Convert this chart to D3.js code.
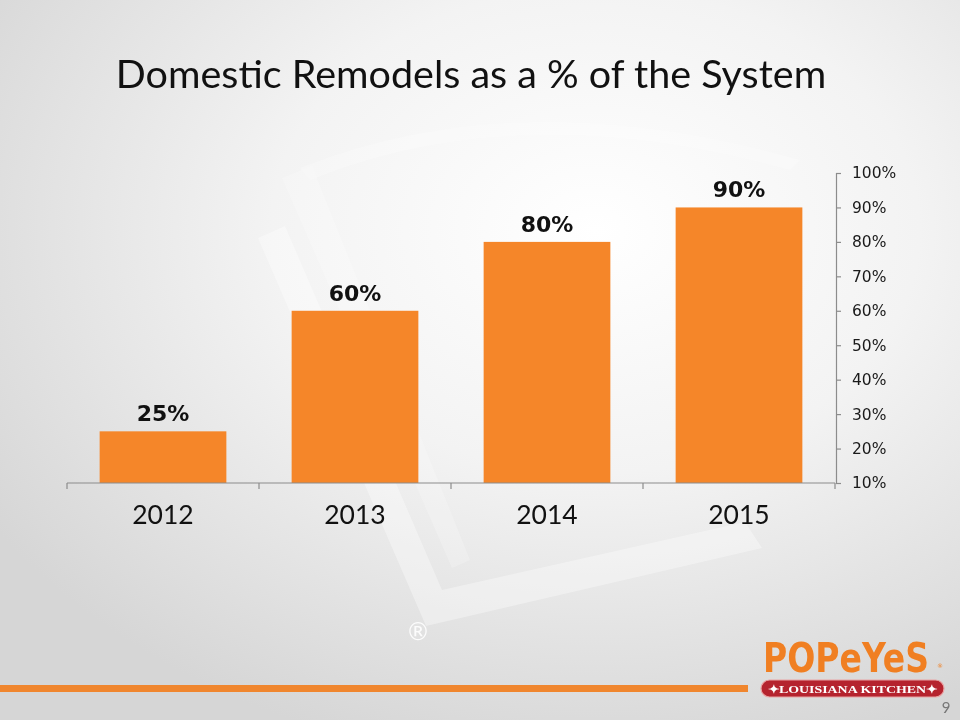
<!DOCTYPE html>
<html><head><meta charset="utf-8">
<script src="https://cdn.jsdelivr.net/npm/d3@7"></script>
<style>html,body{margin:0;padding:0;background:#fff;}svg{display:block;}</style>
</head><body>
<script>
const categories = ["2012", "2013", "2014", "2015"];
const values = [0.25, 0.60, 0.80, 0.90];
const dataLabels = ["25%", "60%", "80%", "90%"];
const yTicks = [0.1, 0.2, 0.3, 0.4, 0.5, 0.6, 0.7, 0.8, 0.9, 1.0];
const title = "Domestic Remodels as a % of the System";

const W = 960, H = 720;
const svg = d3.select("body").append("svg").attr("width", W).attr("height", H);
const defs = svg.append("defs");
const bg = defs.append("radialGradient").attr("id", "bg")
  .attr("cx", "0.62").attr("cy", "0.32").attr("r", "0.75");
bg.append("stop").attr("offset", "0").attr("stop-color", "#ffffff");
bg.append("stop").attr("offset", "0.45").attr("stop-color", "#f3f3f3");
bg.append("stop").attr("offset", "1").attr("stop-color", "#d6d6d6");
svg.append("rect").attr("width", W).attr("height", H).attr("fill", "url(#bg)");

// faint watermark shapes
const wm = svg.append("g").attr("fill", "#ffffff").attr("opacity", 0.35);
wm.append("path").attr("d", "M258,238 L285,226 L442,590 L745,522 L762,548 L426,626 Z");
wm.append("path").attr("d", "M282,178 L312,166 L470,560 L452,568 Z").attr("opacity", 0.6);
wm.append("path").attr("d", "M300,168 Q520,80 800,160 L790,170 Q520,95 310,180 Z").attr("opacity", 0.7);
svg.append("text").attr("x", 418).attr("y", 640).attr("text-anchor", "middle")
  .attr("font-family", "DejaVu Sans").attr("font-size", 24).attr("fill", "#ffffff").attr("opacity", 0.9).text("®");

// title
svg.append("text").attr("x", 471).attr("y", 88).attr("text-anchor", "middle")
  .attr("font-family", "Lato, 'Open Sans', sans-serif").attr("font-size", 39.5)
  .attr("fill", "#111").text(title);

const x = d3.scaleBand().domain(categories).range([67, 835]).paddingInner(0.34).paddingOuter(0.17);
const y = d3.scaleLinear().domain([0.1, 1.0]).range([483, 173]);

// bars
svg.append("g").selectAll("rect").data(values).join("rect")
  .attr("x", (d, i) => x(categories[i]))
  .attr("width", x.bandwidth())
  .attr("y", d => y(d))
  .attr("height", d => y(0.1) - y(d))
  .attr("fill", "#F58629");

// data labels
svg.append("g").selectAll("text").data(values).join("text")
  .attr("x", (d, i) => x(categories[i]) + x.bandwidth() / 2)
  .attr("y", d => y(d) - 10)
  .attr("text-anchor", "middle")
  .attr("font-family", "'DejaVu Sans', sans-serif").attr("font-weight", "bold")
  .attr("font-size", 22).attr("fill", "#111")
  .text((d, i) => dataLabels[i]);

// x axis
const xAxisG = svg.append("g").attr("transform", "translate(0,483)");
xAxisG.append("line").attr("x1", 67).attr("x2", 835).attr("y1", 0).attr("y2", 0)
  .attr("stroke", "#8c8c8c").attr("stroke-width", 1.2);
const tickXs = d3.range(categories.length + 1).map(i => 67 + i * (768 / categories.length));
xAxisG.selectAll("line.t").data(tickXs).join("line").attr("class", "t")
  .attr("x1", d => d).attr("x2", d => d).attr("y1", 0).attr("y2", 6)
  .attr("stroke", "#8c8c8c").attr("stroke-width", 1.2);
svg.append("g").selectAll("text").data(categories).join("text")
  .attr("x", d => x(d) + x.bandwidth() / 2)
  .attr("y", 524)
  .attr("text-anchor", "middle")
  .attr("font-family", "Lato, 'Open Sans', sans-serif").attr("font-size", 26.5)
  .attr("fill", "#111").text(d => d);

// y axis (right)
const yAxis = d3.axisRight(y).tickValues(yTicks).tickFormat(d3.format(".0%")).tickSize(5).tickPadding(11);
const yg = svg.append("g").attr("transform", "translate(836,0)").call(yAxis);
yg.select(".domain").attr("stroke", "#8c8c8c").attr("stroke-width", 1.2);
yg.selectAll(".tick line").attr("stroke", "#8c8c8c").attr("stroke-width", 1.2);
yg.selectAll(".tick text").attr("font-family", "'DejaVu Sans', sans-serif").attr("font-size", 15.5)
  .attr("fill", "#1a1a1a");

// bottom orange stripe
svg.append("rect").attr("x", 0).attr("y", 685).attr("width", 748).attr("height", 7).attr("fill", "#F0862E");

// logo
svg.append("text").attr("x", 846).attr("y", 672).attr("text-anchor", "middle")
  .attr("font-family", "'DejaVu Sans', sans-serif").attr("font-weight", "bold")
  .attr("font-size", 40).attr("fill", "#F07F22")
  .attr("textLength", 166).attr("lengthAdjust", "spacingAndGlyphs").text("POPeYeS");
svg.append("text").attr("x", 937).attr("y", 668).attr("font-family", "DejaVu Sans")
  .attr("font-size", 6).attr("fill", "#F07F22").text("®");
svg.append("rect").attr("x", 761).attr("y", 680).attr("width", 183).attr("height", 17).attr("rx", 8.5)
  .attr("fill", "#B5232E").attr("stroke", "#e9a3a3").attr("stroke-width", 1.2);
svg.append("text").attr("x", 852.5).attr("y", 692.5).attr("text-anchor", "middle")
  .attr("font-family", "'Liberation Serif', serif").attr("font-weight", "bold")
  .attr("font-size", 11).attr("fill", "#ffffff")
  .attr("textLength", 170).attr("lengthAdjust", "spacingAndGlyphs")
  .text("✦LOUISIANA KITCHEN✦");
svg.append("text").attr("x", 946).attr("y", 713).attr("text-anchor", "middle")
  .attr("font-family", "Lato, sans-serif").attr("font-size", 15).attr("fill", "#777").text("9");
</script>
</body></html>
